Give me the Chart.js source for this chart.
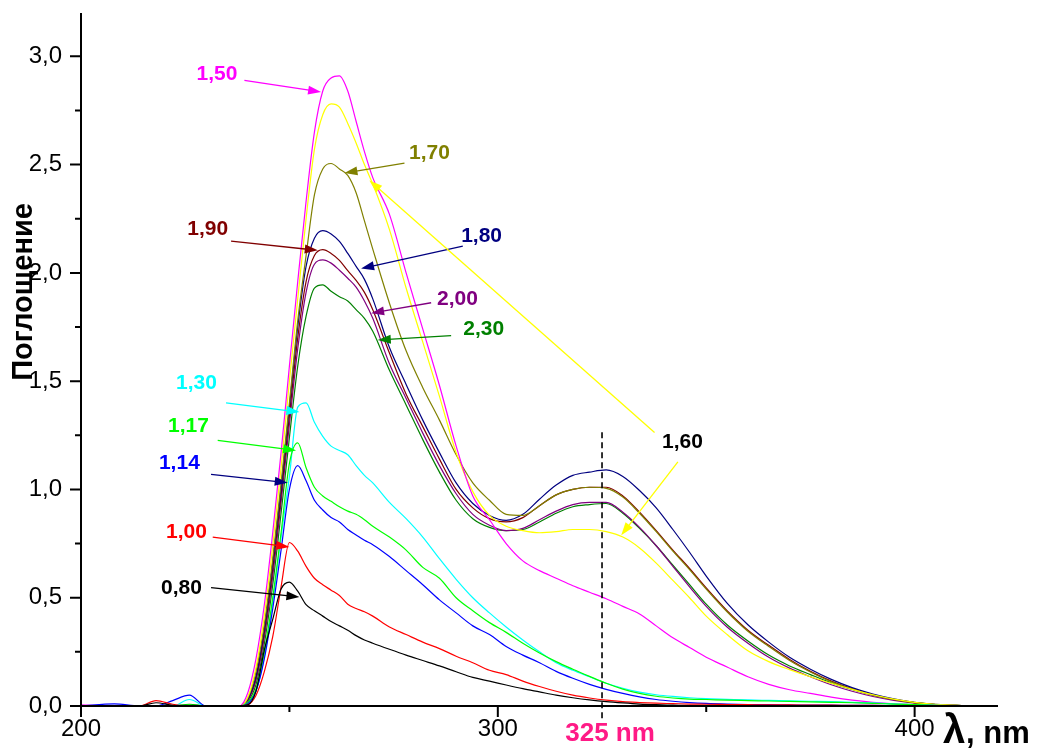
<!DOCTYPE html>
<html>
<head>
<meta charset="utf-8">
<script src="https://cdn.jsdelivr.net/npm/chart.js@4.4.1/dist/chart.umd.min.js"></script>
<style>
  html, body { margin: 0; padding: 0; background: #fff; }
  #wrap { width: 1040px; height: 751px; }
</style>
</head>
<body>
<div id="wrap"><canvas id="spectra"></canvas></div>
<script>
// Длины волн, нм
const wavelengths = [200, 208, 214, 218, 222, 226, 230, 236,
  238, 240, 242, 244, 246, 248, 250, 252, 254, 256, 258, 260, 262, 264, 266, 268, 270,
  274, 278, 282, 286, 290, 294, 298, 302, 306, 310, 314, 318, 322, 326, 330, 334, 338, 342, 346, 350,
  355, 360, 365, 370, 375, 380, 385, 390, 395, 400, 405, 410,
  420];

// Поглощение для каждого образца
const abs080 = [0, 0, 0, 0.015, 0.003, 0, 0, 0,
  0, 0.005, 0.07, 0.26, 0.4, 0.54, 0.572, 0.53, 0.468, 0.44, 0.415, 0.39, 0.37, 0.35, 0.325, 0.305, 0.29,
  0.262, 0.235, 0.21, 0.185, 0.158, 0.132, 0.115, 0.097, 0.08, 0.065, 0.05, 0.038, 0.028, 0.02, 0.014, 0.009, 0.006, 0.004, 0.002, 0.001,
  0, 0, 0, 0, 0, 0, 0, 0, 0, 0, 0, 0,
  0];
const abs100 = [0, 0, 0, 0.025, 0.008, 0, 0, 0,
  0, 0.005, 0.05, 0.16, 0.32, 0.55, 0.755, 0.715, 0.645, 0.59, 0.56, 0.535, 0.51, 0.47, 0.45, 0.435, 0.415,
  0.365, 0.33, 0.295, 0.265, 0.23, 0.2, 0.165, 0.145, 0.115, 0.09, 0.068, 0.05, 0.037, 0.027, 0.02, 0.016, 0.013, 0.011, 0.009, 0.008,
  0.007, 0.006, 0.005, 0.005, 0.004, 0.004, 0.003, 0.003, 0.002, 0.001, 0, 0,
  0];
const abs114 = [0, 0.01, 0, 0, 0.025, 0.05, 0, 0,
  0, 0.01, 0.07, 0.22, 0.45, 0.72, 1.0, 1.11, 1.04, 0.95, 0.905, 0.87, 0.85, 0.815, 0.79, 0.765, 0.745,
  0.69, 0.625, 0.56, 0.49, 0.43, 0.37, 0.33, 0.275, 0.235, 0.2, 0.16, 0.128, 0.1, 0.077, 0.058, 0.042, 0.03, 0.022, 0.016, 0.012,
  0.009, 0.007, 0.006, 0.005, 0.004, 0.004, 0.003, 0.003, 0.002, 0.001, 0, 0,
  0];
const abs117 = [0, 0, 0, 0, 0, 0.005, 0, 0,
  0, 0.015, 0.08, 0.25, 0.5, 0.8, 1.12, 1.215, 1.1, 1.01, 0.97, 0.945, 0.92, 0.9, 0.885, 0.86, 0.83,
  0.78, 0.72, 0.64, 0.59, 0.5, 0.44, 0.385, 0.34, 0.29, 0.245, 0.205, 0.17, 0.137, 0.105, 0.078, 0.058, 0.045, 0.037, 0.032, 0.03,
  0.027, 0.025, 0.023, 0.021, 0.019, 0.017, 0.015, 0.012, 0.009, 0.006, 0.003, 0.001,
  0];
const abs130 = [0, 0, 0, 0, 0, 0.03, 0, 0,
  0, 0.015, 0.07, 0.23, 0.48, 0.78, 1.06, 1.38, 1.4, 1.31, 1.245, 1.2, 1.18, 1.16, 1.11, 1.065, 1.03,
  0.94, 0.865, 0.78, 0.68, 0.585, 0.5, 0.43, 0.365, 0.305, 0.25, 0.2, 0.165, 0.135, 0.105, 0.082, 0.064, 0.052, 0.044, 0.038, 0.034,
  0.031, 0.028, 0.026, 0.024, 0.022, 0.02, 0.017, 0.014, 0.01, 0.006, 0.003, 0.001,
  0];
const abs150 = [0.005, 0, 0, 0, 0, 0, 0, 0,
  0, 0.06, 0.22, 0.47, 0.8, 1.17, 1.57, 1.96, 2.33, 2.65, 2.84, 2.9, 2.91, 2.84, 2.7, 2.56, 2.44,
  2.27, 2.0, 1.74, 1.48, 1.2, 0.97, 0.86, 0.75, 0.67, 0.625, 0.59, 0.555, 0.525, 0.495, 0.46, 0.425, 0.37, 0.315, 0.27, 0.225,
  0.18, 0.135, 0.1, 0.075, 0.058, 0.041, 0.027, 0.017, 0.01, 0.006, 0.003, 0.001,
  0];
const abs160 = [0, 0, 0, 0, 0, 0, 0, 0,
  0, 0.04, 0.18, 0.42, 0.74, 1.1, 1.5, 1.88, 2.25, 2.57, 2.73, 2.78, 2.765, 2.69, 2.6, 2.5, 2.41,
  2.2, 1.93, 1.68, 1.43, 1.17, 0.99, 0.88, 0.83, 0.81, 0.8, 0.805, 0.815, 0.815, 0.805, 0.78, 0.73, 0.66, 0.58, 0.5, 0.415,
  0.33, 0.255, 0.205, 0.168, 0.135, 0.105, 0.077, 0.052, 0.032, 0.017, 0.008, 0.003,
  0];
const abs170 = [0, 0, 0, 0, 0, 0, 0, 0,
  0, 0.035, 0.16, 0.38, 0.68, 1.03, 1.4, 1.78, 2.08, 2.36, 2.48, 2.505, 2.48, 2.45, 2.37, 2.24, 2.11,
  1.86, 1.64, 1.47, 1.32, 1.16, 1.03, 0.95, 0.885, 0.88, 0.925, 0.975, 1.0, 1.01, 1.005, 0.965, 0.89, 0.805, 0.715, 0.63, 0.54,
  0.435, 0.345, 0.275, 0.21, 0.157, 0.112, 0.078, 0.05, 0.03, 0.015, 0.007, 0.003,
  0];
const abs180 = [0, 0, 0, 0, 0, 0, 0, 0,
  0, 0.03, 0.14, 0.36, 0.66, 1.0, 1.38, 1.75, 2.03, 2.16, 2.195, 2.18, 2.145, 2.09, 2.03, 1.97, 1.88,
  1.655, 1.485, 1.32, 1.17, 1.03, 0.935, 0.88, 0.857, 0.885, 0.955, 1.02, 1.065, 1.08, 1.09, 1.06, 0.995, 0.915, 0.815, 0.71, 0.6,
  0.475, 0.375, 0.295, 0.225, 0.17, 0.123, 0.085, 0.055, 0.033, 0.017, 0.008, 0.003,
  0];
const abs190 = [0, 0, 0, 0, 0, 0, 0, 0,
  0, 0.03, 0.13, 0.34, 0.63, 0.97, 1.34, 1.7, 1.96, 2.08, 2.107, 2.09, 2.058, 2.01, 1.965, 1.91, 1.83,
  1.63, 1.44, 1.29, 1.14, 1.0, 0.915, 0.865, 0.85, 0.87, 0.925, 0.975, 1.0, 1.01, 1.01, 0.97, 0.895, 0.81, 0.72, 0.635, 0.545,
  0.44, 0.35, 0.28, 0.215, 0.16, 0.115, 0.08, 0.052, 0.031, 0.016, 0.007, 0.003,
  0];
const abs200 = [0, 0, 0, 0, 0, 0, 0, 0,
  0, 0.025, 0.12, 0.32, 0.6, 0.94, 1.3, 1.65, 1.91, 2.04, 2.06, 2.045, 2.012, 1.975, 1.934, 1.87, 1.79,
  1.58, 1.42, 1.26, 1.11, 0.98, 0.885, 0.835, 0.81, 0.82, 0.86, 0.9, 0.93, 0.94, 0.94, 0.895, 0.825, 0.74, 0.645, 0.55, 0.46,
  0.365, 0.29, 0.225, 0.175, 0.135, 0.098, 0.068, 0.044, 0.026, 0.013, 0.006, 0.002,
  0];
const abs230 = [0, 0, 0, 0, 0, 0.008, 0, 0,
  0, 0.02, 0.1, 0.29, 0.56, 0.89, 1.24, 1.57, 1.8, 1.93, 1.945, 1.915, 1.89, 1.87, 1.83, 1.79, 1.73,
  1.55, 1.39, 1.23, 1.08, 0.95, 0.865, 0.825, 0.81, 0.815, 0.85, 0.89, 0.92, 0.93, 0.935, 0.89, 0.82, 0.74, 0.65, 0.56, 0.47,
  0.375, 0.3, 0.235, 0.185, 0.145, 0.107, 0.076, 0.05, 0.03, 0.016, 0.007, 0.003,
  0];

const seriesNames = ['0,80', '1,00', '1,14', '1,17', '1,30', '1,50', '1,60', '1,70', '1,80', '1,90', '2,00', '2,30'];
const seriesValues = [abs080, abs100, abs114, abs117, abs130, abs150, abs160, abs170, abs180, abs190, abs200, abs230];
const seriesColors = ['#000000', '#ff0000', '#0000ff', '#00ff00', '#00ffff', '#ff00ff',
  '#ffff00', '#808000', '#000080', '#800000', '#800080', '#008000'];

// деления осей
const xMajorTicks = [200, 300, 400];
const xMinorTicks = [250, 350];
const yMajorTicks = [0, 0.5, 1.0, 1.5, 2.0, 2.5, 3.0];
const yMinorTicks = [0.25, 0.75, 1.25, 1.75, 2.25, 2.75];

const markerWavelength = 325;

// подписи кривых со стрелками (в координатах графика)
const labels = [
  { text: '1,50', color: '#ff00ff', at: [232.6, 2.925], arrows: [[[239.2, 2.889], [257.6, 2.835]]] },
  { text: '1,70', color: '#808000', at: [283.6, 2.56], arrows: [[[277.6, 2.507], [263.2, 2.461]]] },
  { text: '1,90', color: '#800000', at: [230.4, 2.21], arrows: [[[236.0, 2.147], [256.8, 2.104]]] },
  { text: '1,80', color: '#000080', at: [296.1, 2.178], arrows: [[[291.6, 2.124], [267.2, 2.02]]] },
  { text: '2,00', color: '#800080', at: [290.3, 1.886], arrows: [[[284.0, 1.862], [269.6, 1.814]]] },
  { text: '2,30', color: '#008000', at: [296.6, 1.748], arrows: [[[288.8, 1.71], [271.2, 1.69]]] },
  { text: '1,30', color: '#00ffff', at: [227.7, 1.498], arrows: [[[234.8, 1.40], [252.4, 1.357]]] },
  { text: '1,17', color: '#00ff00', at: [225.8, 1.30], arrows: [[[232.8, 1.227], [251.6, 1.18]]] },
  { text: '1,14', color: '#0000ff', arrowColor: '#000080', at: [223.6, 1.129], arrows: [[[231.2, 1.07], [249.6, 1.031]]] },
  { text: '1,00', color: '#ff0000', at: [225.3, 0.81], arrows: [[[231.6, 0.78], [250.0, 0.734]]] },
  { text: '0,80', color: '#000000', at: [224.1, 0.552], arrows: [[[231.2, 0.547], [252.4, 0.503]]] },
  { text: '1,60', color: '#000000', arrowColor: '#ffff00', at: [344.3, 1.226],
    arrows: [[[337.6, 1.263], [269.2, 2.427]], [[343.2, 1.127], [329.6, 0.788]]] }
];

const FONT = 'Arial, "Liberation Sans", sans-serif';

function drawArrow(ctx, x1, y1, x2, y2, color) {
  const ang = Math.atan2(y2 - y1, x2 - x1);
  const len = 13, half = 4.5;
  ctx.strokeStyle = color;
  ctx.fillStyle = color;
  ctx.lineWidth = 1.3;
  ctx.beginPath();
  ctx.moveTo(x1, y1);
  ctx.lineTo(x2 - Math.cos(ang) * len * 0.8, y2 - Math.sin(ang) * len * 0.8);
  ctx.stroke();
  ctx.beginPath();
  ctx.moveTo(x2, y2);
  ctx.lineTo(x2 - Math.cos(ang) * len + Math.sin(ang) * half, y2 - Math.sin(ang) * len - Math.cos(ang) * half);
  ctx.lineTo(x2 - Math.cos(ang) * len - Math.sin(ang) * half, y2 - Math.sin(ang) * len + Math.cos(ang) * half);
  ctx.closePath();
  ctx.fill();
}

const overlay = {
  id: 'overlay',
  afterDraw(chart) {
    const { ctx, chartArea: area } = chart;
    const x = chart.scales.x, y = chart.scales.y;
    ctx.save();

    // пунктир 325 нм
    ctx.strokeStyle = '#000';
    ctx.lineWidth = 1.6;
    ctx.setLineDash([6, 4]);
    ctx.beginPath();
    ctx.moveTo(x.getPixelForValue(markerWavelength), y.getPixelForValue(1.264));
    ctx.lineTo(x.getPixelForValue(markerWavelength), area.bottom + 13);
    ctx.stroke();
    ctx.setLineDash([]);

    // оси и деления
    ctx.strokeStyle = '#000';
    ctx.lineWidth = 2;
    ctx.beginPath();
    ctx.moveTo(area.left, area.top);
    ctx.lineTo(area.left, area.bottom);
    ctx.lineTo(area.right, area.bottom);
    for (const v of xMajorTicks) {
      const px = x.getPixelForValue(v);
      ctx.moveTo(px, area.bottom); ctx.lineTo(px, area.bottom + 11);
    }
    for (const v of xMinorTicks) {
      const px = x.getPixelForValue(v);
      ctx.moveTo(px, area.bottom); ctx.lineTo(px, area.bottom + 6);
    }
    for (const v of yMajorTicks) {
      const py = y.getPixelForValue(v);
      ctx.moveTo(area.left, py); ctx.lineTo(area.left - 11, py);
    }
    for (const v of yMinorTicks) {
      const py = y.getPixelForValue(v);
      ctx.moveTo(area.left, py); ctx.lineTo(area.left - 6, py);
    }
    ctx.stroke();

    // подписи кривых
    ctx.font = 'bold 21px ' + FONT;
    ctx.textAlign = 'center';
    ctx.textBaseline = 'alphabetic';
    for (const lb of labels) {
      for (const [from, to] of lb.arrows) {
        drawArrow(ctx, x.getPixelForValue(from[0]), y.getPixelForValue(from[1]),
          x.getPixelForValue(to[0]), y.getPixelForValue(to[1]), lb.arrowColor || lb.color);
      }
      ctx.fillStyle = lb.color;
      ctx.fillText(lb.text, x.getPixelForValue(lb.at[0]), y.getPixelForValue(lb.at[1]) + 7.5);
    }

    // 325 nm
    ctx.fillStyle = '#ff1a86';
    ctx.font = 'bold 26px ' + FONT;
    ctx.fillText('325 nm', x.getPixelForValue(markerWavelength) + 8, area.bottom + 35);

    // подпись оси X
    ctx.fillStyle = '#000';
    ctx.textAlign = 'left';
    ctx.font = 'bold 40px ' + FONT;
    ctx.fillText('λ', 943, area.bottom + 37);
    ctx.font = 'bold 31px ' + FONT;
    ctx.fillText(', nm', 966, area.bottom + 37);

    // подпись оси Y
    ctx.translate(24, 292);
    ctx.rotate(-Math.PI / 2);
    ctx.textAlign = 'center';
    ctx.textBaseline = 'middle';
    ctx.font = 'bold 29px ' + FONT;
    ctx.fillText('Поглощение', 0, 0);
    ctx.restore();
  }
};

const datasets = seriesNames.map((name, i) => ({
  label: name,
  data: wavelengths.map((w, k) => ({ x: w, y: seriesValues[i][k] })),
  borderColor: seriesColors[i],
  borderWidth: 1.2,
  pointRadius: 0,
  fill: false,
  cubicInterpolationMode: 'monotone'
}));

const comma = v => v.toFixed(1).replace('.', ',');

new Chart(document.getElementById('spectra').getContext('2d'), {
  type: 'line',
  data: { datasets },
  options: {
    responsive: true,
    maintainAspectRatio: false,
    animation: false,
    layout: { padding: { top: 13, right: 42, left: 0, bottom: 0 } },
    plugins: { legend: { display: false }, tooltip: { enabled: false } },
    scales: {
      x: {
        type: 'linear',
        min: 200, max: 420,
        afterFit: s => { s.height = 45; s.paddingLeft = 0; s.paddingRight = 0; },
        grid: { display: false, drawTicks: false },
        border: { display: false },
        ticks: {
          stepSize: 100, includeBounds: false, padding: 9,
          color: '#000', font: { family: FONT, size: 24 },
          callback: v => String(v)
        }
      },
      y: {
        min: 0, max: 3.2,
        afterFit: s => { s.width = 81; s.paddingTop = 0; s.paddingBottom = 0; },
        grid: { display: false, drawTicks: false },
        border: { display: false },
        ticks: {
          stepSize: 0.5, includeBounds: false, padding: 19,
          color: '#000', font: { family: FONT, size: 24 },
          callback: v => comma(v)
        }
      }
    }
  },
  plugins: [overlay]
});
</script>
</body>
</html>
